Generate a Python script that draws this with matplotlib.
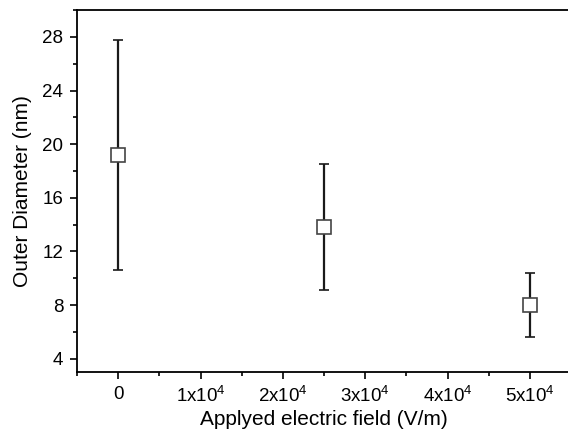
import matplotlib
matplotlib.use("Agg")
import matplotlib.pyplot as plt
from matplotlib.ticker import MultipleLocator, FuncFormatter

plt.rcParams["font.family"] = ["Liberation Sans", "DejaVu Sans"]
plt.rcParams["mathtext.fontset"] = "custom"
plt.rcParams["mathtext.rm"] = "Liberation Sans"
plt.rcParams["mathtext.it"] = "Liberation Sans:italic"

# data
field = [0, 25000, 50000]
diameter = [19.2, 13.8, 8.0]
diameter_err = [8.6, 4.7, 2.4]

fig = plt.figure(figsize=(5.68, 4.43), dpi=100)
ax = fig.add_axes([0.1356, 0.160, 0.87, 0.817])

ax.errorbar(field, diameter, yerr=diameter_err, fmt="s", color="#1a1a1a",
            ecolor="#1a1a1a", elinewidth=1.6, capsize=3.5, capthick=1.6,
            markersize=10.5, markerfacecolor="white", markeredgecolor="#444444",
            markeredgewidth=1.2, zorder=3)

ax.set_xlim(-5000, 55000)
ax.set_ylim(3, 30)
ax.yaxis.set_major_locator(MultipleLocator(4))
ax.yaxis.set_minor_locator(MultipleLocator(2))
ax.xaxis.set_major_locator(MultipleLocator(10000))
ax.xaxis.set_minor_locator(MultipleLocator(5000))


def fmt_x(v, pos):
    n = int(round(v / 10000))
    if n == 0:
        return "0"
    return f"{n}x10$^{{4}}$"


ax.xaxis.set_major_formatter(FuncFormatter(fmt_x))
ax.set_yticks([4, 8, 12, 16, 20, 24, 28])

for s in ax.spines.values():
    s.set_linewidth(1.3)
ax.spines["right"].set_visible(False)
ax.tick_params(which="both", direction="out", width=1.2, labelsize=13.5,
               top=False, right=False)
ax.tick_params(which="major", length=5, pad=5)
ax.tick_params(which="minor", length=3)

ax.set_xlabel("Applyed electric field (V/m)", fontsize=15, labelpad=3)
ax.set_ylabel("Outer Diameter (nm)", fontsize=15, labelpad=7)

fig.savefig("out.png", dpi=100)
